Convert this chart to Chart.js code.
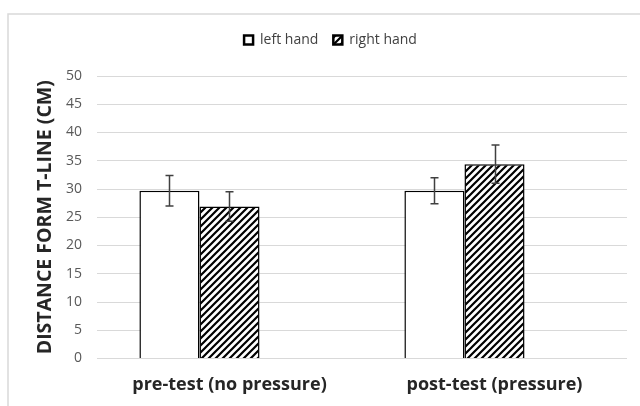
<!DOCTYPE html>
<html>
<head>
<meta charset="utf-8">
<script src="https://cdn.jsdelivr.net/npm/chart.js@4/dist/chart.umd.min.js"></script>
<style>
  html, body { margin: 0; padding: 0; background: #fff; }
  #wrap { position: relative; width: 640px; height: 406px; }
</style>
</head>
<body>
<div id="wrap"><canvas id="barCanvas" width="640" height="406"></canvas></div>
<script>
// data
var categories = ['pre-test (no pressure)', 'post-test (pressure)'];
var leftHand = [29.7, 29.7];
var rightHand = [26.9, 34.4];
var leftErr = [2.7, 2.3];
var rightErr = [2.6, 3.4];
var yTicks = [0, 5, 10, 15, 20, 25, 30, 35, 40, 45, 50];

// diagonal hatch for the right hand bars
function makeHatch() {
    var s = 7;
    var c = document.createElement('canvas');
    c.width = s; c.height = s;
    var g = c.getContext('2d');
    g.fillStyle = '#fff';
    g.fillRect(0, 0, s, s);
    g.strokeStyle = '#000';
    g.lineWidth = 2.2;
    g.beginPath();
    g.moveTo(-1, s + 1); g.lineTo(s + 1, -1);
    g.moveTo(-1, 1); g.lineTo(1, -1);
    g.moveTo(s - 1, s + 1); g.lineTo(s + 1, s - 1);
    g.stroke();
    return g.createPattern(c, 'repeat');
}
var hatch = makeHatch();

// error bars drawn through the y scale
var errorBars = {
    id: 'errorBars',
    afterDatasetsDraw: function (chart) {
        var ctx = chart.ctx;
        var yScale = chart.scales.y;
        var errs = [leftErr, rightErr];
        ctx.save();
        ctx.strokeStyle = '#404040';
        ctx.lineWidth = 1.5;
        errs.forEach(function (err, di) {
            var meta = chart.getDatasetMeta(di);
            var vals = chart.data.datasets[di].data;
            meta.data.forEach(function (bar, i) {
                var x = Math.round(bar.x) + 0.5;
                var top = yScale.getPixelForValue(vals[i] + err[i]);
                var bot = yScale.getPixelForValue(vals[i] - err[i]);
                ctx.beginPath();
                ctx.moveTo(x, top); ctx.lineTo(x, bot);
                ctx.moveTo(x - 4, top); ctx.lineTo(x + 4, top);
                ctx.moveTo(x - 4, bot); ctx.lineTo(x + 4, bot);
                ctx.stroke();
            });
        });
        ctx.restore();
    }
};

// light frame round the chart (cut at right and bottom)
var frame = {
    id: 'frame',
    beforeDraw: function (chart) {
        var ctx = chart.ctx;
        ctx.save();
        ctx.strokeStyle = '#d9d9d9';
        ctx.lineWidth = 1.5;
        ctx.beginPath();
        ctx.moveTo(8, 406); ctx.lineTo(8, 14); ctx.lineTo(640, 14);
        ctx.stroke();
        ctx.restore();
    }
};

// some room under the legend
var legendGap = {
    id: 'legendGap',
    beforeInit: function (chart) {
        var fit = chart.legend.fit;
        chart.legend.fit = function () {
            fit.bind(chart.legend)();
            this.height += 19;
        };
    }
};

var ctx = document.getElementById('barCanvas').getContext('2d');
window.myBar = new Chart(ctx, {
    type: 'bar',
    data: {
        labels: categories,
        datasets: [{
            label: 'left hand',
            data: leftHand,
            backgroundColor: '#ffffff',
            borderColor: '#000000',
            borderWidth: 1.5
        }, {
            label: 'right hand',
            data: rightHand,
            backgroundColor: hatch,
            borderColor: '#000000',
            borderWidth: 1.5
        }, {
            label: '',
            data: [null, null],
            backgroundColor: 'rgba(0,0,0,0)',
            borderWidth: 0
        }]
    },
    options: {
        responsive: false,
        animation: false,
        layout: { padding: { left: 34, right: 13, top: 18, bottom: 0 } },
        datasets: { bar: { barPercentage: 1, categoryPercentage: 0.68 } },
        plugins: {
            legend: {
                position: 'top',
                labels: {
                    boxWidth: 9,
                    boxHeight: 9,
                    padding: 15,
                    color: '#404040',
                    font: { family: 'Open Sans', size: 14 },
                    filter: function (item) { return item.text !== ''; },
                    generateLabels: function (chart) {
                        var items = Chart.defaults.plugins.legend.labels.generateLabels(chart);
                        items.forEach(function (it) { it.lineWidth = 2.5; });
                        return items;
                    }
                }
            },
            tooltip: { enabled: false }
        },
        scales: {
            x: {
                afterFit: function (scale) { scale.height = 47.5; },
                grid: { display: false },
                border: { display: false },
                ticks: {
                    padding: 8,
                    color: '#262626',
                    font: { family: 'Open Sans', size: 18, weight: 'bold' }
                }
            },
            y: {
                min: 0,
                max: 50,
                afterBuildTicks: function (scale) {
                    scale.ticks = yTicks.map(function (v) { return { value: v }; });
                },
                afterFit: function (scale) { scale.width = 63; },
                grid: { color: '#d9d9d9', lineWidth: 1, drawTicks: false },
                border: { display: false },
                ticks: {
                    padding: 15,
                    color: '#595959',
                    font: { family: 'Open Sans', size: 14 }
                },
                title: {
                    display: true,
                    text: 'DISTANCE FORM T-LINE (CM)',
                    color: '#262626',
                    padding: 0,
                    font: { family: 'Open Sans', size: 19.5, weight: 'bold' }
                }
            }
        }
    },
    plugins: [frame, legendGap, errorBars]
});
</script>
</body>
</html>
